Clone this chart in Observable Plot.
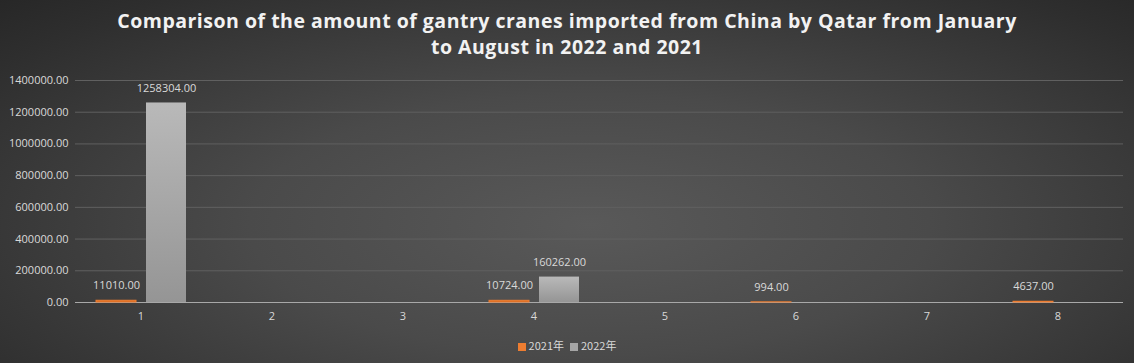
<!DOCTYPE html>
<html>
<head>
<meta charset="utf-8">
<script src="https://cdn.jsdelivr.net/npm/d3@7"></script>
<script src="https://cdn.jsdelivr.net/npm/@observablehq/plot@0.6"></script>
<style>
  html, body { margin: 0; padding: 0; background: #2b2b2b; }
  #wrap {
    position: relative; width: 1134px; height: 363px; overflow: hidden;
    background: radial-gradient(ellipse 75% 90% at 52% 62%, #595959 0%, #4a4a4a 40%, #2e2e2e 85%, #262626 100%);
    font-family: "Open Sans", sans-serif;
  }
  #title {
    position: absolute; left: 0; top: 8px; width: 1134px; text-align: center;
    color: #f2f2f2; font-weight: bold; font-size: 19.5px; letter-spacing: 0.5px; line-height: 26px;
  }
  #chart { position: absolute; left: 0; top: 64px; }
  #legend {
    position: absolute; left: 0; top: 337px; width: 1134px; text-align: center;
    color: #d9d9d9; font-size: 11px; font-family: "Noto Sans CJK SC", sans-serif; line-height: 16px;
  }
  .sw { display: inline-block; width: 8px; height: 8px; margin-right: 3px; vertical-align: -1px; }
  .item { margin: 0 3px; }
</style>
</head>
<body>
<div id="wrap">
  <div id="title">Comparison of the amount of gantry cranes imported from China by Qatar from January<br>to August in 2022 and 2021</div>
  <div id="chart"></div>
  <div id="legend"></div>
</div>
<script>
const months = [1, 2, 3, 4, 5, 6, 7, 8];
const series = ["2021年", "2022年"];
const values2021 = [11010, null, null, 10724, null, 994, null, 4637];
const values2022 = [1258304, null, null, 160262, null, null, null, null];
const yTicks = [0, 200000, 400000, 600000, 800000, 1000000, 1200000, 1400000];
const seriesColors = ["#ED7D31", "#A5A5A5"];

const rows = [];
months.forEach((m, i) => {
  if (values2021[i] != null) rows.push({month: m, series: series[0], value: values2021[i]});
  if (values2022[i] != null) rows.push({month: m, series: series[1], value: values2022[i]});
});
// grid lines per month panel so every panel holds data
const gridRows = [];
months.forEach(m => yTicks.forEach(t => gridRows.push({month: m, tick: t})));

const chart = Plot.plot({
  width: 1134,
  height: 272,
  marginLeft: 75,
  marginRight: 11,
  marginTop: 16,
  marginBottom: 34,
  style: {background: "transparent", color: "#d9d9d9", fontFamily: "Open Sans, sans-serif", fontSize: "11px", overflow: "visible"},
  fx: {domain: months, padding: 0, label: null, tickSize: 0, tickPadding: 10},
  x: {domain: series, paddingInner: 0.2, paddingOuter: 0.41, axis: null},
  y: {domain: [0, 1400000], ticks: 7, tickFormat: d => d.toFixed(2), label: null, tickSize: 0, tickPadding: 7},
  color: {domain: series, range: ["url(#g21)", "url(#g22)"]},
  marks: [
    Plot.ruleY(gridRows.filter(d => d.tick > 0), {fx: "month", y: "tick", stroke: "#606060", strokeWidth: 1}),
    Plot.ruleY(gridRows.filter(d => d.tick === 0), {fx: "month", y: "tick", stroke: "#a8a8a8", strokeWidth: 1}),
    Plot.barY(rows.filter(d => d.series === series[0]), {fx: "month", x: "series", y: "value", fill: "series", stroke: seriesColors[0], strokeWidth: 1}),
    Plot.barY(rows.filter(d => d.series === series[1]), {fx: "month", x: "series", y: "value", fill: "series"}),
    Plot.text(rows, {fx: "month", x: "series", y: "value", text: d => d.value.toFixed(2), dy: -15, fill: "#d9d9d9", fontSize: 11})
  ]
});

const ns = "http://www.w3.org/2000/svg";
const defs = document.createElementNS(ns, "defs");
defs.innerHTML = `
  <linearGradient id="g22" x1="0" y1="0" x2="0" y2="1">
    <stop offset="0" stop-color="#b9b9b9"/><stop offset="1" stop-color="#959595"/>
  </linearGradient>
  <linearGradient id="g21" x1="0" y1="0" x2="0" y2="1">
    <stop offset="0" stop-color="#f08030"/><stop offset="1" stop-color="#c55a11"/>
  </linearGradient>`;
chart.insertBefore(defs, chart.firstChild);
document.getElementById("chart").appendChild(chart);

const legend = document.getElementById("legend");
series.forEach((s, i) => {
  const item = document.createElement("span");
  item.className = "item";
  item.innerHTML = `<span class="sw" style="background:${seriesColors[i]}"></span>${s}`;
  legend.appendChild(item);
});
</script>
</body>
</html>
